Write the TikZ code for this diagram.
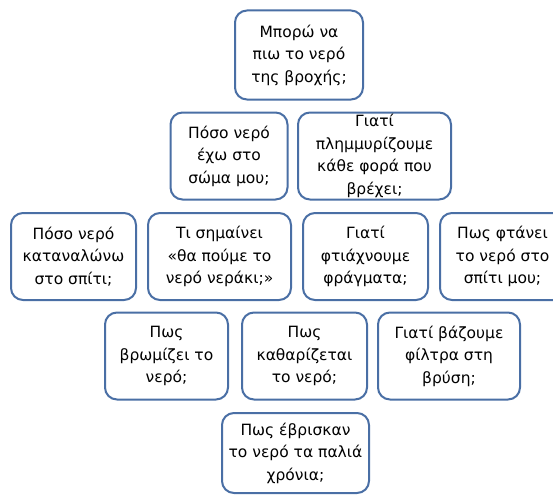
\documentclass[tikz,border=0pt]{standalone}
\usepackage{fontspec}
\setmainfont{DejaVu Sans}
\usepackage{tikz}
\definecolor{boxblue}{HTML}{4A6FA5}

\begin{document}
\begin{tikzpicture}[x=1pt,y=-1pt,
	qbox/.style={draw=boxblue,line width=2pt,rounded corners=12pt,fill=white,
		align=center,inner sep=0pt,minimum height=87pt,
		font=\fontsize{15.5}{22.5}\selectfont}]
	\useasboundingbox (0,0) rectangle (553,495);
	% top
	\node[qbox,minimum width=128pt,minimum height=89pt] (drink) at (299,55) {Μπορώ να\\πιω το νερό\\της βροχής;};
	% second row
	\node[qbox,minimum width=117pt] (body) at (229,156) {Πόσο νερό\\έχω στο\\σώμα μου;};
	\node[qbox,minimum width=153pt] (flood) at (374.5,156) {Γιατί\\πλημμυρίζουμε\\κάθε φορά που\\βρέχει;};
	% third row
	\node[qbox,minimum width=125pt] (home) at (73.5,256.5) {Πόσο νερό\\καταναλώνω\\στο σπίτι;};
	\node[qbox,minimum width=143pt] (saying) at (219.5,256.5) {Τι σημαίνει\\«θα πούμε το\\νερό νεράκι;»};
	\node[qbox,minimum width=125pt] (dams) at (365.5,256.5) {Γιατί\\φτιάχνουμε\\φράγματα;};
	\node[qbox,minimum width=125pt] (reach) at (502.5,256.5) {Πως φτάνει\\το νερό στο\\σπίτι μου;};
	% fourth row
	\node[qbox,minimum width=123pt] (dirty) at (166.5,356) {Πως\\βρωμίζει το\\νερό;};
	\node[qbox,minimum width=125pt] (clean) at (304.5,356) {Πως\\καθαρίζεται\\το νερό;};
	\node[qbox,minimum width=142pt] (filter) at (449,356) {Γιατί βάζουμε\\φίλτρα στη\\βρύση;};
	% bottom
	\node[qbox,minimum width=147pt,minimum height=80pt] (old) at (295.5,453) {Πως έβρισκαν\\το νερό τα παλιά\\χρόνια;};
\end{tikzpicture}
\end{document}
